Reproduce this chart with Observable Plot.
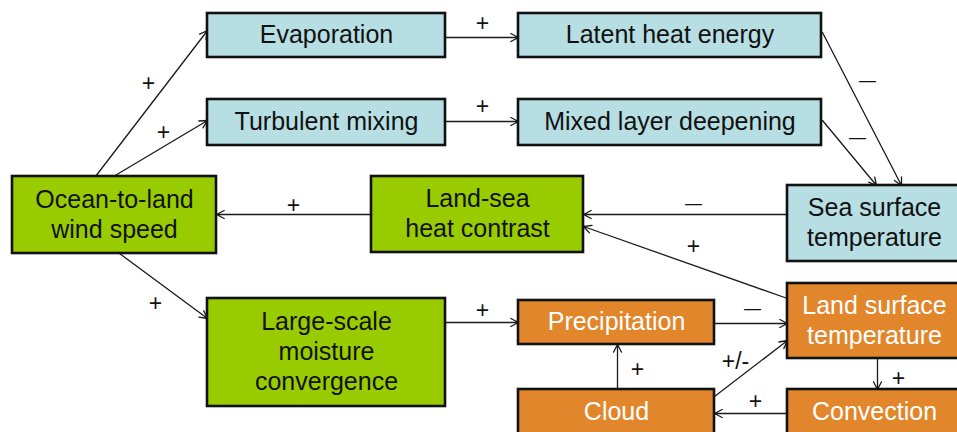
<!DOCTYPE html>
<html>
<head>
<meta charset="utf-8">
<script src="https://cdn.jsdelivr.net/npm/d3@7"></script>
<script src="https://cdn.jsdelivr.net/npm/@observablehq/plot@0.6"></script>
<style>
  html, body { margin: 0; padding: 0; background: #fff; overflow: hidden; }
  #chart svg { display: block; }
</style>
</head>
<body>
<div id="chart"></div>
<script>
// ---- Nodes (diagram coordinates, pixel units) ----
const nodeLabels = [
  "Evaporation", "Latent heat energy", "Turbulent mixing", "Mixed layer deepening",
  "Ocean-to-land\nwind speed", "Land-sea\nheat contrast", "Sea surface\ntemperature",
  "Large-scale\nmoisture\nconvergence", "Precipitation", "Land surface\ntemperature",
  "Cloud", "Convection"
];
const nodeGroup = ["ocean", "ocean", "ocean", "ocean", "wind", "wind", "ocean",
                   "wind", "land", "land", "land", "land"];
const nodeX1 = [207, 518, 207, 518, 12, 371, 787, 207, 518, 787, 518, 787];
const nodeX2 = [445, 821, 445, 821, 216, 583, 962, 445, 714, 962, 714, 962];
const nodeY1 = [13, 13, 99, 99, 176, 176, 185, 298, 300, 283, 389, 389];
const nodeY2 = [57, 57, 145, 145, 253, 252, 261, 406, 344, 358, 434, 434];

// ---- Links ----
const linkX1 = [95, 113, 445, 445, 822, 822, 787, 371, 119, 445, 714, 787, 617, 714, 877, 787];
const linkY1 = [176, 176, 37, 121, 32, 120, 214, 214, 253, 322, 323, 298, 389, 396, 358, 413];
const linkX2 = [207, 207, 518, 518, 901, 876, 583, 216, 207, 518, 787, 583, 617, 787, 877, 714];
const linkY2 = [30, 120, 37, 121, 185, 185, 214, 214, 318, 322, 323, 226, 344, 340, 389, 413];

// ---- Link signs ----
const signText = ["+", "+", "+", "+", "—", "—", "—", "+", "+", "+", "—", "+", "+", "+/-", "+", "+"];
const signX = [148, 163, 482, 482, 867, 857, 693, 293, 155, 482, 752, 693, 637, 735, 898, 755];
const signY = [83, 132, 23, 106, 80, 137, 203, 205, 303, 310, 308, 246, 369, 361, 378, 401];

const groupFill = {ocean: "#b7dee3", wind: "#99cc00", land: "#e2862b"};
const groupText = {ocean: "#111", wind: "#111", land: "#ffffff"};

const nodes = nodeLabels.map((label, i) => ({
  label, group: nodeGroup[i],
  x1: nodeX1[i], x2: nodeX2[i], y1: nodeY1[i], y2: nodeY2[i],
  cx: (nodeX1[i] + Math.min(nodeX2[i], 957)) / 2 + (nodeX2[i] > 957 ? 2 : 0),
  cy: (nodeY1[i] + nodeY2[i]) / 2
}));
const links = linkX1.map((_, i) => ({x1: linkX1[i], y1: linkY1[i], x2: linkX2[i], y2: linkY2[i]}));
const signs = signText.map((t, i) => ({t, x: signX[i], y: signY[i], dash: t === "—"}));

const font = "'Liberation Sans', Arial, Helvetica, sans-serif";

const chart = Plot.plot({
  width: 957,
  height: 432,
  margin: 0,
  x: {domain: [0, 957], range: [0, 957], axis: null},
  y: {domain: [0, 432], range: [0, 432], axis: null},
  style: {background: "#ffffff"},
  marks: [
    Plot.arrow(links, {
      x1: "x1", y1: "y1", x2: "x2", y2: "y2",
      stroke: "#1a1a1a", strokeWidth: 1.3, headLength: 10, headAngle: 55, bend: 0
    }),
    Plot.rect(nodes, {
      x1: "x1", x2: "x2", y1: "y1", y2: "y2",
      fill: d => groupFill[d.group], stroke: "#111", strokeWidth: 2.6
    }),
    Plot.text(nodes, {
      x: "cx", y: "cy", text: "label", dy: -2,
      fill: d => groupText[d.group],
      fontSize: 25, fontFamily: font, lineHeight: 1.2, lineAnchor: "middle"
    }),
    Plot.text(signs.filter(d => !d.dash), {
      x: "x", y: "y", text: "t", fill: "#111",
      fontSize: 23, fontFamily: font, lineAnchor: "middle"
    }),
    Plot.text(signs.filter(d => d.dash), {
      x: "x", y: "y", text: "t", fill: "#111",
      fontSize: 17, fontFamily: font, lineAnchor: "middle"
    })
  ]
});
document.getElementById("chart").appendChild(chart);
</script>
</body>
</html>
